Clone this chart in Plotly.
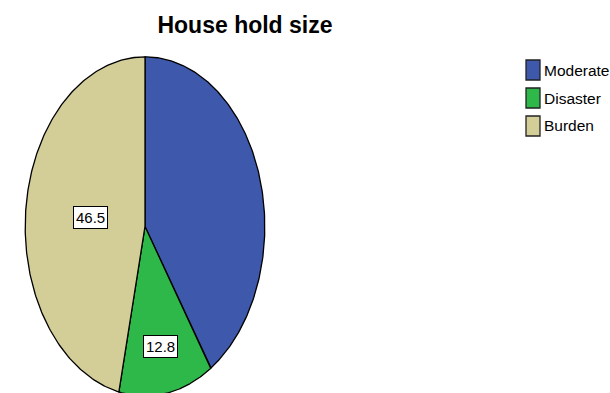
import numpy as np
import plotly.graph_objects as go

categories = ["Moderate", "Disaster", "Burden"]
values = [40.7, 12.8, 46.5]
labels = [None, "12.8", "46.5"]
colors = ["#3E58AC", "#2FB84A", "#D3CE98"]
label_radius = [0.6, 0.72, 0.46]

FONT = "Liberation Sans, Arial, sans-serif"

fig = go.Figure()
total = sum(values)
start = 0.0
for cat, val, col, lab, lr in zip(categories, values, colors, labels, label_radius):
    a0 = start / total * 2 * np.pi
    a1 = (start + val) / total * 2 * np.pi
    t = np.linspace(a0, a1, 200)
    xs = np.concatenate([[0], np.sin(t), [0]])
    ys = np.concatenate([[0], np.cos(t), [0]])
    fig.add_trace(go.Scatter(x=xs, y=ys, mode="lines", fill="toself",
                             fillcolor=col, line=dict(color="black", width=1.3),
                             name=cat, showlegend=False, hoverinfo="name"))
    if lab is not None:
        am = (a0 + a1) / 2
        fig.add_annotation(x=lr * np.sin(am), y=lr * np.cos(am), text=lab,
                           showarrow=False, xref="x", yref="y",
                           font=dict(family=FONT, size=15, color="black"),
                           bgcolor="white", bordercolor="black", borderwidth=1,
                           borderpad=2)
    start += val

# legend (manual)
for i, (cat, col) in enumerate(zip(categories, colors)):
    yc = 1 - (70 + 28 * i) / 393
    fig.add_shape(type="rect", xref="paper", yref="paper",
                  x0=526 / 610, x1=540 / 610, y0=yc - 10 / 393, y1=yc + 10 / 393,
                  fillcolor=col, line=dict(color="#222", width=1.3))
    fig.add_annotation(xref="paper", yref="paper", x=542 / 610, y=yc,
                       xanchor="left", yanchor="middle", text=cat, showarrow=False,
                       font=dict(family=FONT, size=15.5, color="black"))

fig.update_layout(
    width=610, height=393,
    margin=dict(l=0, r=0, t=0, b=0),
    paper_bgcolor="white", plot_bgcolor="white",
    title=dict(text="<b>House hold size</b>", x=245 / 610, xanchor="center",
               y=1 - 25 / 393, yanchor="middle", xref="paper", yref="container",
               font=dict(family=FONT, size=23, color="black")),
    xaxis=dict(domain=[24 / 610, 266 / 610], range=[-1.01, 1.01], visible=False,
               fixedrange=True),
    yaxis=dict(domain=[0, 337 / 393], range=[-0.982, 1.005], visible=False,
               fixedrange=True),
    showlegend=False,
)

fig.write_html("out.html", config={"displayModeBar": False},
               post_script="document.body.style.margin='0';document.body.style.overflow='hidden';")
